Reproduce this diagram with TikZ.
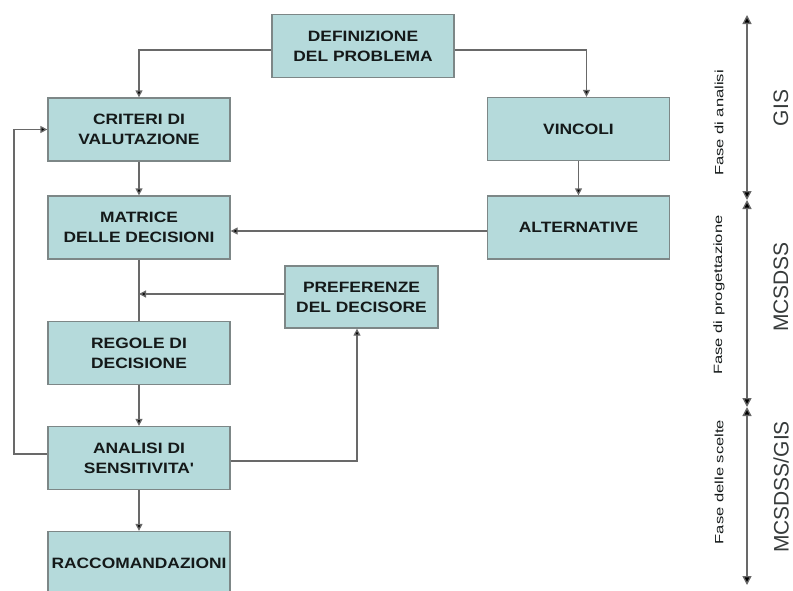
\documentclass[tikz,border=0pt]{standalone}
\usepackage{fontspec}
\setmainfont{Liberation Sans}
\newfontfamily\boxfont[FakeStretch=1.16]{Liberation Sans}
\newfontfamily\phasefont[FakeStretch=1.38]{Liberation Sans}
\usetikzlibrary{arrows.meta,calc}
\definecolor{boxfill}{RGB}{181,218,219}
\definecolor{boxline}{RGB}{125,135,135}
\definecolor{conn}{RGB}{105,105,105}
\definecolor{txt}{RGB}{20,25,25}
\tikzset{
  stepbox/.style={draw=boxline, line width=1.3pt, fill=boxfill, minimum width=182pt, minimum height=63pt, align=center, font=\boxfont\fontsize{15}{20}\selectfont\bfseries, text=txt, inner sep=0pt},
  conn/.style={draw=conn, line width=1.3pt, -{Triangle[length=7pt,width=7pt,fill=black]}},
  line/.style={draw=conn, line width=1.3pt},
  axis/.style={draw=conn, line width=1.3pt, {Triangle[length=9pt,width=9pt,fill=black]}-{Triangle[length=9pt,width=9pt,fill=black]}},
  phase/.style={rotate=90, font=\phasefont\fontsize{12}{14}\selectfont, text=txt},
  tool/.style={rotate=90, font=\fontsize{21}{24}\selectfont, text=txt!85},
}
\begin{document}
\begin{tikzpicture}[x=1pt,y=-1pt]
\useasboundingbox (0,0) rectangle (793,590);
\node[stepbox] (def) at (363,46) {DEFINIZIONE\\DEL PROBLEMA};
\node[stepbox] (crit) at (139,129.5) {CRITERI DI\\VALUTAZIONE};
\node[stepbox] (mat) at (139,227.5) {MATRICE\\DELLE DECISIONI};
\node[stepbox] (vinc) at (578.5,129) {VINCOLI};
\node[stepbox] (alt) at (578.5,227.5) {ALTERNATIVE};
\node[stepbox, minimum width=153pt, minimum height=62pt] (pref) at (361.5,297) {PREFERENZE\\DEL DECISORE};
\node[stepbox] (reg) at (139,353) {REGOLE DI\\DECISIONE};
\node[stepbox] (ana) at (139,458) {ANALISI DI\\SENSITIVITA'};
\node[stepbox] (rac) at (139,563) {RACCOMANDAZIONI};

\coordinate (merge) at (139,294);
\coordinate (loopL) at (14,454);
\coordinate (loopR) at (357,461);

\draw[conn] ([yshift=-4pt]def.west) -| (crit.north);
\draw[conn] ([yshift=-4pt]def.east) -| ([xshift=8pt]vinc.north);
\draw[conn] (crit) -- (mat);
\draw[conn] (vinc) -- (alt);
\draw[conn] ([yshift=-3.5pt]alt.west) -- ([yshift=-3.5pt]mat.east);
\draw[line] (mat) -- (reg);
\draw[conn] (pref.west |- merge) -- (merge);
\draw[conn] (reg) -- (ana);
\draw[conn] (ana) -- (rac);
\draw[conn] (ana.west |- loopL) -- (loopL) |- (crit.west);
\draw[conn] (ana.east |- loopR) -- (loopR) -- (loopR |- pref.south);

\coordinate (a0) at (747,15);
\coordinate (a1) at (747,200);
\coordinate (a2) at (747,407);
\coordinate (a3) at (747,585);
\draw[axis] (a0) -- (a1);
\draw[axis] (a1) -- (a2);
\draw[axis] (a2) -- (a3);

\node[phase] (p1) at (719,123) {Fase di analisi};
\node[phase] (p2) at (719,295) {Fase di progettazione};
\node[phase] (p3) at (719,482) {Fase delle scelte};
\node[tool] (t1) at (781,108) {GIS};
\node[tool] (t2) at (781,287) {MCSDSS};
\node[tool] (t3) at (781,487) {MCSDSS/GIS};
\end{tikzpicture}
\end{document}
